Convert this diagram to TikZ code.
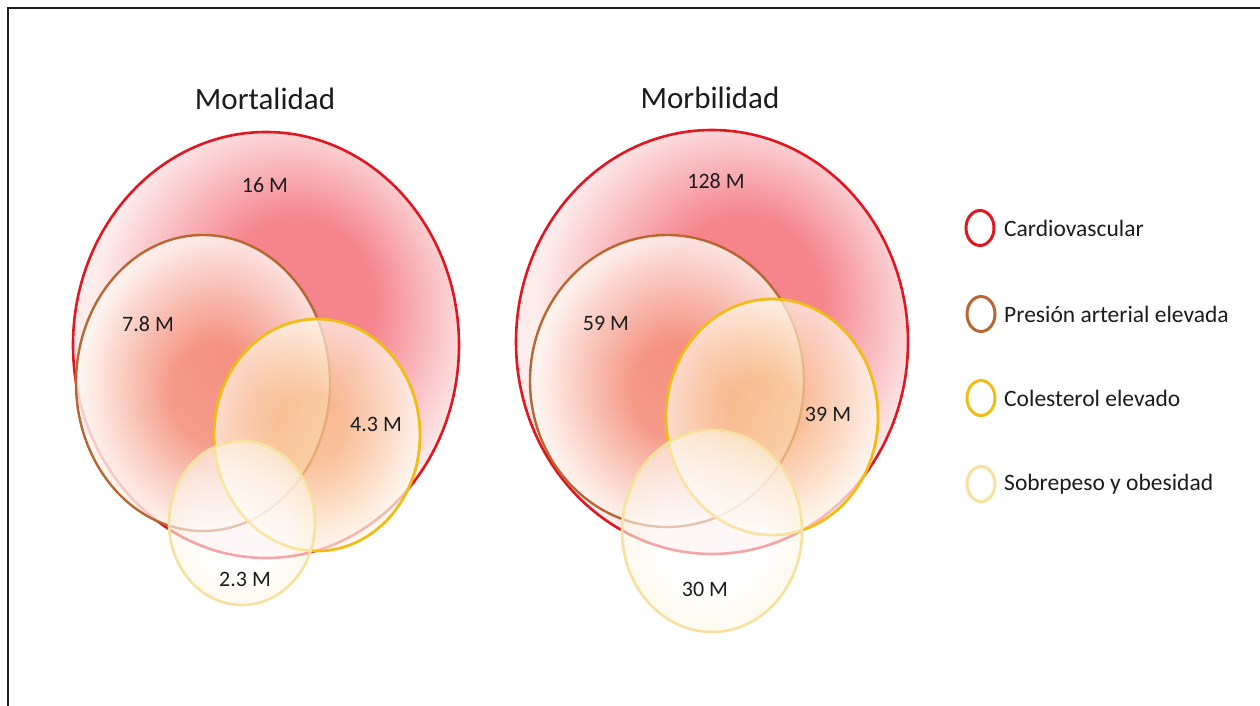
\documentclass[tikz,border=0pt]{standalone}
\usepackage{fontspec}
\setmainfont{Carlito}
\usetikzlibrary{shapes.geometric}
\definecolor{cvred}{RGB}{226,22,32}
\definecolor{bpbrown}{RGB}{186,102,50}
\definecolor{colyel}{RGB}{242,188,22}
\definecolor{obyel}{RGB}{246,226,158}
\definecolor{redin}{RGB}{245,132,140}
\definecolor{redout}{RGB}{253,236,236}
\definecolor{brownin}{RGB}{245,148,126}
\definecolor{brownout}{RGB}{254,246,240}
\definecolor{yelin}{RGB}{250,198,144}
\definecolor{yelout}{RGB}{255,248,236}
\definecolor{obin}{RGB}{255,255,255}
\definecolor{obout}{RGB}{253,246,228}
\definecolor{textc}{RGB}{28,28,28}
\definecolor{framec}{RGB}{30,30,30}
\pgfdeclareradialshading{cvshade}{\pgfpoint{5bp}{6bp}}{color(0bp)=(redin); color(10bp)=(redin); color(25bp)=(redout); color(50bp)=(redout)}
\pgfdeclareradialshading{bpshade}{\pgfpoint{2bp}{-2bp}}{color(0bp)=(brownin); color(8bp)=(brownin); color(25bp)=(brownout); color(50bp)=(brownout)}
\pgfdeclareradialshading{colshade}{\pgfpoint{-2bp}{1bp}}{color(0bp)=(yelin); color(8bp)=(yelin); color(25bp)=(yelout); color(50bp)=(yelout)}
\pgfdeclareradialshading{obshade}{\pgfpoint{0bp}{0bp}}{color(0bp)=(obin); color(15bp)=(obin); color(25bp)=(obout); color(50bp)=(obout)}
\tikzset{
  venn/.style={ellipse, inner sep=0pt, outer sep=0pt},
  cvset/.style={venn, draw=cvred, line width=2.6pt, shading=cvshade},
  bpset/.style={venn, draw=bpbrown, line width=2.4pt, shading=bpshade, fill opacity=0.82},
  colset/.style={venn, draw=colyel, line width=2.8pt, shading=colshade, fill opacity=0.72},
  obset/.style={venn, draw=obyel, line width=2.6pt, shading=obshade, fill opacity=0.62},
  num/.style={font=\fontsize{22}{25}\selectfont, text=textc},
  ttl/.style={font=\fontsize{31}{35}\selectfont, text=textc},
  legtxt/.style={font=\fontsize{23.5}{27}\selectfont, text=textc, anchor=west, inner sep=0pt},
  legc/.style={ellipse, inner sep=0pt, minimum width=28pt, minimum height=35pt, fill=white, line width=3pt},
}
\begin{document}
\begin{tikzpicture}[x=1pt,y=-1pt]
\useasboundingbox (0,0) rectangle (1260,706);
\fill[white] (0,0) rectangle (1260,706);
% frame
\coordinate (fbl) at (8,706);
\coordinate (ftl) at (8,8.5);
\coordinate (ftr) at (1260,8.5);
\draw[framec, line width=2pt] (fbl) -- (ftl) -- (ftr);
% Mortalidad
\node[ttl] (t1) at (265,99) {Mortalidad};
\node[cvset, minimum width=386pt, minimum height=426pt] (L1) at (266,345) {};
\node[bpset, minimum width=254pt, minimum height=296pt] (L2) at (203,383) {};
\node[colset, minimum width=206pt, minimum height=232pt] (L3) at (317,435) {};
\node[obset, minimum width=146pt, minimum height=164pt] (L4) at (242,523) {};
\node[num] (n16) at (265,185) {16 M};
\node[num] (n78) at (148,324) {7.8 M};
\node[num] (n43) at (376,424) {4.3 M};
\node[num] (n23) at (245,579) {2.3 M};
% Morbilidad
\node[ttl] (t2) at (710,98) {Morbilidad};
\node[cvset, minimum width=392pt, minimum height=424pt] (R1) at (712,342) {};
\node[bpset, minimum width=274pt, minimum height=292pt] (R2) at (667,381) {};
\node[colset, minimum width=212pt, minimum height=236pt] (R3) at (772,417) {};
\node[obset, minimum width=180pt, minimum height=202pt] (R4) at (712,531) {};
\node[num] (n128) at (716,181) {128 M};
\node[num] (n59) at (606,323) {59 M};
\node[num] (n39) at (828,414) {39 M};
\node[num] (n30) at (705,589) {30 M};
% legend
\node[legc, draw=cvred] (k1) at (980,228) {};
\node[legc, draw=bpbrown] (k2) at (981,314) {};
\node[legc, draw=colyel] (k3) at (981,398) {};
\node[legc, draw=obyel] (k4) at (981,484) {};
\node[legtxt] (l1) at (1004,228) {Cardiovascular};
\node[legtxt] (l2) at (1004,314) {Presión arterial elevada};
\node[legtxt] (l3) at (1004,398) {Colesterol elevado};
\node[legtxt] (l4) at (1004,484) {Sobrepeso y obesidad};
\end{tikzpicture}
\end{document}
